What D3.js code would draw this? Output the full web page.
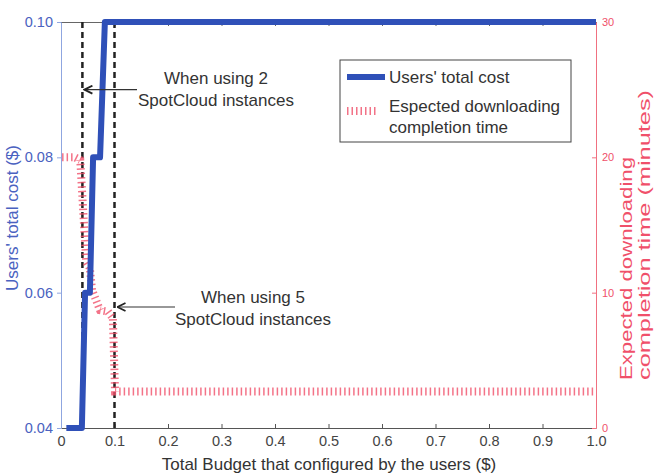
<!DOCTYPE html>
<html><head><meta charset="utf-8">
<script src="https://cdn.jsdelivr.net/npm/d3@7"></script>
<style>body{margin:0;background:#fff;}svg{display:block;font-family:"Liberation Sans",Arial,sans-serif;}</style>
</head><body>
<svg id="c" width="655" height="473"></svg>
<script>
// Data
const costBudget = [0.01, 0.039, 0.045, 0.054, 0.06, 0.073, 0.082, 1.0];
const costValues = [0.04, 0.04, 0.06, 0.06, 0.08, 0.08, 0.10, 0.10];
const timeBudget = [0.002, 0.026, 0.036, 0.047, 0.054, 0.058, 0.073, 0.088, 0.097, 0.101, 1.0];
const timeValues = [20, 20, 19.8, 12.3, 11.8, 10.2, 8.7, 8.6, 8.1, 2.7, 2.7];
const markerBudgets = [0.04, 0.1];
const xTicks = [0, 0.1, 0.2, 0.3, 0.4, 0.5, 0.6, 0.7, 0.8, 0.9, 1.0];
const xTickLabels = ["0", "0.1", "0.2", "0.3", "0.4", "0.5", "0.6", "0.7", "0.8", "0.9", "1.0"];
const yLeftTicks = [0.04, 0.06, 0.08, 0.10];
const yRightTicks = [0, 10, 20, 30];

const svg = d3.select("#c");
const L = 61, R = 596, T = 22, B = 428;
const x = d3.scaleLinear().domain([0, 1]).range([L, R]);
const yL = d3.scaleLinear().domain([0.04, 0.10]).range([B, T]);
const yR = d3.scaleLinear().domain([0, 30]).range([B, T]);

const blue = "#2f50b8", blueAxis = "#8fa6e0", blueText = "#4a62c0";
const red = "#f0506a", redAxis = "#f07080";
const FONT = "Liberation Sans, Arial";

// bottom axis
const xAxis = d3.axisBottom(x).tickValues(xTicks).tickFormat((d, i) => xTickLabels[i]).tickSizeInner(-4).tickSizeOuter(0).tickPadding(8);
const gx = svg.append("g").attr("transform", `translate(0,${B})`).call(xAxis);
gx.select(".domain").attr("stroke", "#555");
gx.selectAll(".tick line").attr("stroke", "#555");
gx.selectAll("text").attr("font-size", 14.5).attr("fill", "#444").attr("font-family", FONT);
// top axis
const gt = svg.append("g").attr("transform", `translate(0,${T})`).call(d3.axisTop(x).tickValues(xTicks).tickFormat("").tickSizeInner(-4).tickSizeOuter(0));
gt.select(".domain").attr("stroke", "#666");
gt.selectAll(".tick line").attr("stroke", "#666");

// left axis
const gl = svg.append("g").attr("transform", `translate(${L},0)`).call(d3.axisLeft(yL).tickValues(yLeftTicks).tickFormat(d3.format(".2f")).tickSizeInner(4).tickSizeOuter(0).tickPadding(4));
gl.select(".domain").attr("stroke", blueAxis);
gl.selectAll(".tick line").attr("stroke", blueAxis);
gl.selectAll("text").attr("font-size", 14.5).attr("fill", blueText).attr("font-family", FONT);

// right axis
const gr = svg.append("g").attr("transform", `translate(${R},0)`).call(d3.axisRight(yR).tickValues(yRightTicks).tickSizeInner(-4).tickSizeOuter(0).tickPadding(6));
gr.select(".domain").attr("stroke", redAxis);
gr.selectAll(".tick line").attr("stroke", redAxis);
gr.selectAll("text").attr("font-size", 11).attr("fill", red).attr("font-family", FONT);

// marker dashed lines
svg.selectAll("line.marker").data(markerBudgets).enter().append("line")
  .attr("x1", d => x(d)).attr("x2", d => x(d)).attr("y1", T).attr("y2", B)
  .attr("stroke", "#222").attr("stroke-width", 2.5).attr("stroke-dasharray", "6,4");

// red time line
const lineT = d3.line().x((d, i) => x(timeBudget[i])).y(d => yR(d));
svg.append("path").attr("d", lineT(timeValues)).attr("fill", "none")
  .attr("stroke", red).attr("stroke-width", 8).attr("stroke-dasharray", "1.5,3").attr("opacity", 0.8);

// blue cost line
const lineC = d3.line().x((d, i) => x(costBudget[i])).y(d => yL(d));
svg.append("path").attr("d", lineC(costValues)).attr("fill", "none")
  .attr("stroke", blue).attr("stroke-width", 6).attr("stroke-linejoin", "round");

// annotations
svg.append("defs").append("marker").attr("id", "arr").attr("viewBox", "0 0 10 10").attr("refX", 9).attr("refY", 5)
  .attr("markerWidth", 10).attr("markerHeight", 10).attr("markerUnits", "userSpaceOnUse").attr("orient", "auto")
  .append("path").attr("d", "M1,1 L9,5 L1,9").attr("fill", "none").attr("stroke", "#222").attr("stroke-width", 1.8);
const annots = [
  {x1: 137, x2: x(0.04) + 2, y: yL(0.09), tx: 216, lines: ["When using 2", "SpotCloud instances"], ty: 84},
  {x1: 175, x2: x(0.1) + 3, y: 307, tx: 253, lines: ["When using 5", "SpotCloud instances"], ty: 303}
];
annots.forEach(a => {
  svg.append("line").attr("x1", a.x1).attr("x2", a.x2).attr("y1", a.y).attr("y2", a.y)
    .attr("stroke", "#333").attr("stroke-width", 1.2).attr("marker-end", "url(#arr)");
  a.lines.forEach((t, i) => svg.append("text").attr("x", a.tx).attr("y", a.ty + i * 22)
    .attr("text-anchor", "middle").attr("font-size", 17).attr("fill", "#333").text(t));
});

// legend
svg.append("rect").attr("x", 340).attr("y", 60).attr("width", 231).attr("height", 82)
  .attr("fill", "#fff").attr("stroke", "#444").attr("stroke-width", 1);
svg.append("line").attr("x1", 347).attr("x2", 385).attr("y1", 77).attr("y2", 77).attr("stroke", blue).attr("stroke-width", 6);
svg.append("line").attr("x1", 347).attr("x2", 378).attr("y1", 111).attr("y2", 111).attr("stroke", red)
  .attr("stroke-width", 8).attr("stroke-dasharray", "1.5,3").attr("opacity", 0.8);
svg.append("text").attr("x", 389).attr("y", 83).attr("font-size", 17).attr("fill", "#333").text("Users' total cost");
svg.append("text").attr("x", 389).attr("y", 112).attr("font-size", 17).attr("fill", "#333").text("Espected downloading");
svg.append("text").attr("x", 389).attr("y", 133).attr("font-size", 17).attr("fill", "#333").text("completion time");

// axis titles
svg.append("text").attr("transform", "translate(18,218) rotate(-90)").attr("text-anchor", "middle")
  .attr("font-size", 17).attr("fill", blueText).text("Users' total cost ($)");
svg.append("text").attr("transform", "translate(632,380) rotate(-90)").attr("text-anchor", "start")
  .attr("font-size", 17).attr("fill", red).attr("textLength", 223).attr("lengthAdjust", "spacingAndGlyphs").text("Expected downloading");
svg.append("text").attr("transform", "translate(650,380) rotate(-90)").attr("text-anchor", "start")
  .attr("font-size", 17).attr("fill", red).attr("textLength", 290).attr("lengthAdjust", "spacingAndGlyphs").text("completion  time (minutes)");
svg.append("text").attr("x", 329).attr("y", 470).attr("text-anchor", "middle")
  .attr("font-size", 17).attr("fill", "#333").text("Total Budget that configured by the users ($)");
</script>
</body></html>
